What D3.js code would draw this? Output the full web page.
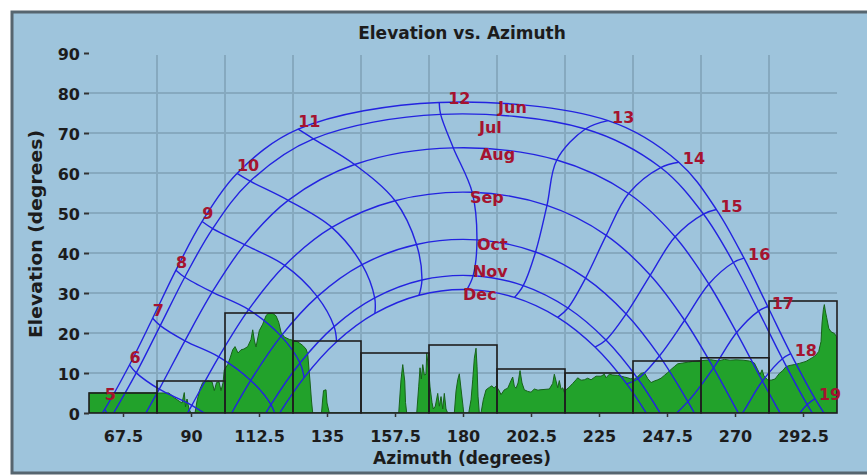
<!DOCTYPE html>
<html><head><meta charset="utf-8">
<script src="https://cdn.jsdelivr.net/npm/d3@7"></script>
<style>
html,body{margin:0;padding:0;background:#fff;}
svg{display:block;}
text{font-family:"DejaVu Sans",Verdana,sans-serif;font-weight:bold;}
</style></head><body>
<svg id="chart" width="867" height="475"></svg>
<script>
// ---------- data ----------
const xTicks = [67.5, 90, 112.5, 135, 157.5, 180, 202.5, 225, 247.5, 270, 292.5];
const xGrid = [78.75, 101.25, 123.75, 146.25, 168.75, 191.25, 213.75, 236.25, 258.75, 281.25];
const yTicks = [0, 10, 20, 30, 40, 50, 60, 70, 80, 90];
const yGrid = [10, 20, 30, 40, 50, 60, 70, 80];

// horizon block outline (22.5 degree bins)
const binStart = [56.25, 78.75, 101.25, 123.75, 146.25, 168.75, 191.25, 213.75, 236.25, 258.75, 281.25];
const binHeight = [5, 8, 25, 18, 15, 17, 11, 10, 13, 13.8, 28];

// detailed horizon profile
const horizonAz = [
 56.25, 78.98, 82.72, 84.48, 86.03, 87.02, 87.78, 88.18, 88.68, 89.34,
 90.00, 91.33, 91.99, 92.98, 93.87, 95.63, 96.95, 97.71, 98.44, 99.27,
 99.93, 100.59, 101.02, 102.15, 102.91, 103.80, 104.56, 105.55, 106.55, 107.54,
 108.76, 109.86, 110.42, 111.01, 111.51, 112.60, 113.73, 114.82, 115.48, 117.04,
 118.13, 119.02, 119.78, 120.88, 122.53, 123.66, 125.31, 126.97, 128.06, 128.62,
 129.38, 129.88, 130.27, 133.19, 133.52, 133.85, 134.67, 135.00, 135.77, 158.73,
 159.49, 160.06, 160.72, 160.98, 161.38, 164.69, 165.35, 165.78, 166.21, 166.68,
 167.21, 167.76, 168.00, 168.66, 169.09, 169.75, 170.18, 170.84, 171.64, 172.17,
 172.73, 173.29, 173.82, 174.38, 174.94, 177.13, 177.69, 178.25, 178.78, 179.35,
 180.01, 180.24, 181.89, 182.66, 183.22, 183.75, 184.31, 184.64, 184.97, 185.40,
 185.96, 186.72, 187.62, 188.71, 189.60, 190.26, 190.93, 191.82, 192.58, 193.67,
 194.80, 195.89, 196.45, 196.98, 197.55, 198.21, 198.87, 199.53, 200.29, 201.42,
 202.51, 203.60, 204.83, 205.49, 208.57, 209.69, 210.22, 210.78, 211.34, 211.87,
 212.44, 213.00, 213.53, 214.09, 215.18, 216.31, 217.40, 217.96, 219.05, 220.15,
 221.27, 222.36, 224.02, 225.67, 226.77, 227.33, 228.42, 229.54, 231.20, 232.29,
 233.38, 234.51, 235.60, 236.16, 236.69, 237.81, 238.91, 240.00, 241.13, 242.22,
 243.31, 244.44, 245.53, 246.62, 247.75, 248.84, 249.93, 251.06, 252.71, 254.47,
 256.02, 259.10, 262.08, 264.40, 266.48, 268.37, 270.35, 272.67, 274.75, 276.41,
 277.53, 278.29, 278.95, 279.61, 280.83, 281.93, 283.25, 284.67, 285.80, 286.89,
 288.21, 289.63, 291.29, 293.50, 295.72, 296.81, 297.71, 298.47, 298.80, 299.23,
 299.56, 299.89, 300.35, 301.01, 301.77, 302.87, 303.60, 303.75
];
const horizonEl = [
 5.0, 5.0, 5.0, 3.8, 3.0, 2.5, 5.1, 1.5, 3.5, 1.0,
 0, 0, 3.0, 6.0, 7.6, 8.0, 7.8, 5.6, 7.6, 7.8,
 5.6, 7.5, 10.8, 12.1, 13.7, 15.8, 16.6, 15.0, 15.8, 16.0,
 16.6, 18.4, 20.8, 18.0, 16.5, 20.6, 22.2, 24.3, 24.9, 24.9,
 24.3, 22.7, 20.2, 19.0, 18.4, 18.2, 17.8, 16.9, 16.0, 14.8,
 8.0, 3.0, 0, 0, 3.0, 5.6, 5.8, 2.5, 0, 0,
 8.3, 12.1, 8.0, 2.6, 0, 0, 6.7, 11.3, 8.5, 12.1,
 9.5, 9.7, 15.0, 10.7, 6.5, 2.6, 1.0, 1.7, 4.9, 1.7,
 4.1, 1.0, 4.9, 1.0, 0, 0, 5.5, 8.3, 9.8, 6.0,
 1.7, 0, 0, 3.3, 8.3, 13.7, 16.2, 11.7, 4.2, 0,
 0, 3.3, 5.8, 6.4, 6.8, 6.2, 6.7, 5.8, 4.6, 5.8,
 6.2, 8.1, 9.0, 6.7, 6.2, 7.5, 10.6, 7.5, 5.8, 5.4,
 5.2, 6.0, 5.7, 5.8, 6.0, 7.4, 9.7, 8.0, 6.3, 8.1,
 5.9, 6.3, 5.2, 5.8, 6.5, 7.4, 8.3, 8.8, 8.2, 8.3,
 8.7, 8.3, 9.2, 9.2, 9.7, 8.8, 9.7, 9.5, 9.4, 9.2,
 9.0, 8.8, 8.5, 8.8, 8.5, 9.1, 9.9, 10.1, 8.6, 7.6,
 8.0, 8.3, 8.7, 9.4, 10.1, 10.9, 11.6, 12.3, 12.5, 12.7,
 12.9, 13.1, 13.3, 13.0, 13.4, 13.2, 13.3, 13.2, 13.0, 12.5,
 10.8, 9.6, 10.8, 9.2, 8.3, 8.2, 8.5, 9.9, 10.6, 11.6,
 11.9, 12.1, 12.4, 12.9, 13.9, 14.5, 15.4, 17.9, 22.5, 25.8,
 27.1, 25.5, 23.8, 21.2, 20.3, 19.9, 19.1, 9.2
];

// sun positions (azimuth, elevation) at each clock hour, 21st of month
const months = ["Jun", "Jul", "Aug", "Sep", "Oct", "Nov", "Dec"];
const monthFirstHour = [4, 5, 5, 5, 6, 6, 6];
const junAz = [52.15, 61.43, 69.64, 77.31, 85.02, 93.69, 105.22, 125.47, 172.13, 228.00, 251.40, 263.85, 272.98, 280.82, 288.44, 296.47, 305.43];
const junEl = [-9.27, 0.92, 12.01, 23.68, 35.71, 47.88, 59.89, 70.96, 77.64, 73.10, 62.70, 50.87, 38.70, 26.62, 14.84, 3.59, -6.86];
const julAz = [63.46, 71.89, 79.83, 87.92, 97.17, 109.57, 130.50, 172.60, 220.50, 245.41, 259.56, 269.47, 277.78, 285.68, 293.90, 303.01];
const julEl = [-1.23, 10.03, 21.84, 33.94, 46.10, 57.95, 68.54, 74.66, 71.00, 61.37, 49.74, 37.62, 25.48, 13.56, 2.11, -8.60];
const augAz = [70.70, 79.49, 87.99, 97.01, 107.71, 122.15, 144.14, 176.80, 211.04, 234.80, 250.19, 261.34, 270.54, 279.07, 287.76];
const augEl = [-5.81, 5.95, 18.05, 30.21, 42.10, 53.17, 62.12, 66.27, 63.24, 54.87, 44.05, 32.25, 20.11, 7.99, -3.85];
const sepAz = [81.42, 90.27, 99.20, 109.07, 121.01, 136.60, 157.53, 183.05, 207.79, 227.39, 241.98, 253.33, 262.90, 271.73, 280.68];
const sepEl = [-10.21, 1.92, 14.05, 25.85, 36.89, 46.40, 53.07, 55.17, 51.89, 44.42, 34.46, 23.19, 11.28, -0.87, -12.97];
const octAz = [100.85, 109.76, 119.80, 131.78, 146.60, 164.62, 184.62, 204.01, 220.57, 233.98, 244.98, 254.41, 263.06];
const octEl = [-3.59, 8.15, 19.22, 29.09, 37.08, 42.13, 43.29, 40.25, 33.72, 24.77, 14.26, 2.84, -9.09];
const novAz = [107.96, 116.46, 126.07, 137.34, 150.78, 166.41, 183.35, 199.93, 214.74, 227.30, 237.86, 246.96, 255.19];
const novEl = [-9.18, 2.09, 12.51, 21.60, 28.77, 33.24, 34.33, 31.86, 26.25, 18.24, 8.56, -2.23, -13.75];
const decAz = [110.03, 118.21, 127.43, 138.18, 150.86, 165.46, 181.31, 197.04, 211.33, 223.68, 234.17, 243.18];
const decEl = [-12.49, -1.38, 8.86, 17.81, 24.89, 29.44, 30.85, 28.90, 23.90, 16.47, 7.27, -3.13];
const hourLabels = [5, 6, 7, 8, 9, 10, 11, 12, 13, 14, 15, 16, 17, 18, 19];
const monthLabelAz = [191.6, 185.3, 185.6, 182.3, 184.6, 183.3, 180.0];
const monthLabelEl = [75.0, 70.0, 63.3, 52.5, 40.8, 34.0, 28.3];

// ---------- drawing ----------
const W = 867, H = 475;
const BG = "#9ec4dc", GRID = "#86a9bf", BLUE = "#2323e0", RED = "#a5132f", INK = "#1c1c1c";
const svg = d3.select("#chart");

svg.append("rect").attr("x", 12).attr("y", 12).attr("width", W + 20).attr("height", 461)
  .attr("fill", BG).attr("stroke", "#56656f").attr("stroke-width", 3);

const x = d3.scaleLinear().domain([56.25, 303.75]).range([89, 837]);
const y = d3.scaleLinear().domain([0, 90]).range([413, 53]);

const defs = svg.append("defs");
defs.append("clipPath").attr("id", "plotclip").append("rect")
  .attr("x", x.range()[0]).attr("y", y.range()[1])
  .attr("width", x.range()[1] - x.range()[0]).attr("height", y.range()[0] - y.range()[1]);

// grid
const grid = svg.append("g");
grid.selectAll("line.h").data(yGrid).join("line")
  .attr("x1", x.range()[0]).attr("x2", x.range()[1])
  .attr("y1", d => y(d)).attr("y2", d => y(d))
  .attr("stroke", GRID).attr("stroke-width", 2);
grid.selectAll("line.v").data(xGrid).join("line")
  .attr("x1", d => x(d)).attr("x2", d => x(d))
  .attr("y1", y.range()[1] + 2).attr("y2", y.range()[0])
  .attr("stroke", GRID).attr("stroke-width", 2);

const plot = svg.append("g").attr("clip-path", "url(#plotclip)");

// horizon profile
const horizon = horizonAz.map((a, i) => [a, horizonEl[i]]);
plot.append("path").datum(horizon)
  .attr("d", d3.area().x(d => x(d[0])).y0(y(0)).y1(d => y(d[1])))
  .attr("fill", "#22a22b").attr("stroke", "#17621a").attr("stroke-width", 1);

// bins outline
svg.append("g").selectAll("rect").data(binStart).join("rect")
  .attr("x", d => x(d)).attr("width", d => x(d + 22.5) - x(d))
  .attr("y", (d, i) => y(binHeight[i])).attr("height", (d, i) => y(0) - y(binHeight[i]))
  .attr("fill", "none").attr("stroke", "#1e1e1e").attr("stroke-width", 1.6);

// sun paths
const monthAz = [junAz, julAz, augAz, sepAz, octAz, novAz, decAz];
const monthEl = [junEl, julEl, augEl, sepEl, octEl, novEl, decEl];
const pathLine = d3.line().x(d => x(d[0])).y(d => y(d[1])).curve(d3.curveCatmullRom.alpha(0.5));

const monthPts = monthAz.map((arr, i) => arr.map((a, k) => [a, monthEl[i][k], monthFirstHour[i] + k]));
plot.selectAll("path.month").data(monthPts).join("path").attr("class", "month")
  .attr("d", pathLine).attr("fill", "none").attr("stroke", BLUE).attr("stroke-width", 1.4);

const hourPts = hourLabels.map(h => monthPts.map(pts => pts.find(p => p[2] === h)).filter(Boolean));
plot.selectAll("path.hour").data(hourPts).join("path").attr("class", "hour")
  .attr("d", pathLine).attr("fill", "none").attr("stroke", BLUE).attr("stroke-width", 1.4);

// hour labels at June points
svg.append("g").selectAll("text").data(hourLabels).join("text")
  .attr("x", h => { const p = monthPts[0].find(q => q[2] === h); return x(p[0]) + (h < 12 ? 0 : (h === 12 ? 9 : 4)); })
  .attr("y", h => { const p = monthPts[0].find(q => q[2] === h); return Math.min(y(p[1]) + (h < 12 ? -2 : 2), 400); })
  .attr("fill", RED).attr("font-size", 16).text(h => h);

// month labels
svg.append("g").selectAll("text").data(months).join("text")
  .attr("x", (m, i) => x(monthLabelAz[i])).attr("y", (m, i) => y(monthLabelEl[i]))
  .attr("fill", RED).attr("font-size", 16).text(m => m);

// axes
const xAxis = svg.append("g").attr("transform", `translate(0,${y(0)})`)
  .call(d3.axisBottom(x).tickValues(xTicks).tickSize(4).tickPadding(14).tickFormat(d => d));
xAxis.select(".domain").remove();
xAxis.selectAll("line").attr("stroke", "#333").attr("stroke-width", 1.5);
xAxis.selectAll("text").attr("fill", INK).attr("font-size", 16).attr("font-family", "DejaVu Sans").attr("font-weight", "bold");

const yAxis = svg.append("g").attr("transform", `translate(${x.range()[0]},0)`)
  .call(d3.axisLeft(y).tickValues(yTicks).tickSize(5).tickPadding(4));
yAxis.select(".domain").remove();
yAxis.selectAll("line").attr("stroke", "#333").attr("stroke-width", 2);
yAxis.selectAll("text").attr("fill", INK).attr("font-size", 16).attr("dy", "0.4em")
  .attr("font-family", "DejaVu Sans").attr("font-weight", "bold");

// titles
svg.append("text").attr("x", 462).attr("y", 39).attr("text-anchor", "middle")
  .attr("font-size", 17).attr("fill", INK).text("Elevation vs. Azimuth");
svg.append("text").attr("x", 462).attr("y", 464).attr("text-anchor", "middle")
  .attr("font-size", 17).attr("fill", INK).text("Azimuth (degrees)");
svg.append("text").attr("transform", "translate(42,234) rotate(-90)").attr("text-anchor", "middle")
  .attr("font-size", 18).attr("textLength", 208).attr("lengthAdjust", "spacingAndGlyphs")
  .attr("fill", INK).text("Elevation (degrees)");
</script>
</body></html>
